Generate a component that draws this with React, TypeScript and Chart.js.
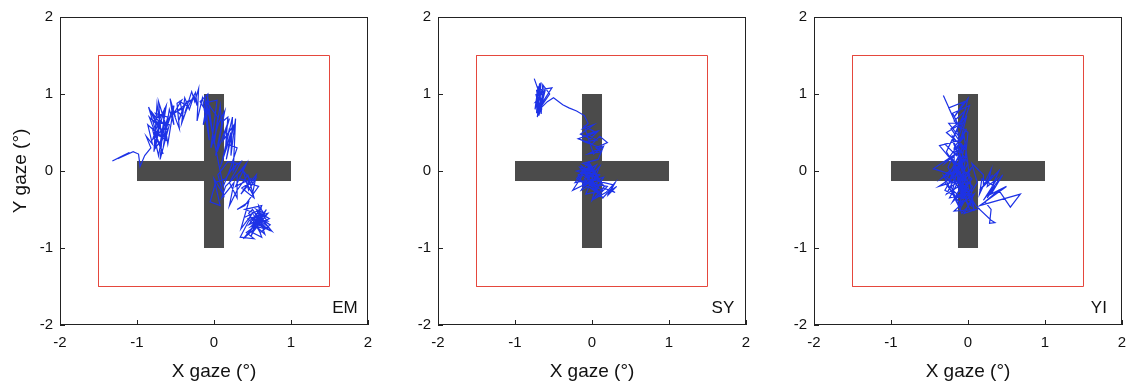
import React, { useEffect, useRef } from "react";
import { Chart, registerables } from "chart.js";

Chart.register(...registerables);

// ---------- data ----------
const tickValues = [-2, -1, 0, 1, 2];
const panelNames = ["EM", "SY", "YI"];
const panelLabelPos = [1.7, -1.78];
const squareX = [-1.5, 1.5, 1.5, -1.5, -1.5];
const squareY = [-1.5, -1.5, 1.5, 1.5, -1.5];
// [x0, x1, y0, y1]
const crossBars = [
  [-0.13, 0.13, -1, 1],
  [-1, 1, -0.13, 0.13],
];

const emTrace = [
  [-1.32, 0.13], [-1.18, 0.2], [-1.1, 0.24], [-1.25, 0.16], [-1.05, 0.25], [-0.98, 0.22], [-0.96, 0.06],
  [-0.9, 0.2], [-0.82, 0.3], [-0.88, 0.45], [-0.8, 0.35], [-0.86, 0.6], [-0.75, 0.5], [-0.85, 0.83],
  [-0.72, 0.55], [-0.8, 0.4], [-0.7, 0.7], [-0.78, 0.25], [-0.74, 0.87], [-0.68, 0.45], [-0.8, 0.55],
  [-0.72, 0.2], [-0.65, 0.6], [-0.76, 0.75], [-0.6, 0.7], [-0.7, 0.35], [-0.62, 0.85], [-0.74, 0.6],
  [-0.84, 0.7], [-0.66, 0.22], [-0.78, 0.5], [-0.62, 0.4], [-0.82, 0.78], [-0.7, 0.62], [-0.76, 0.3],
  [-0.6, 0.52], [-0.72, 0.9], [-0.68, 0.38], [-0.56, 0.72], [-0.74, 0.45], [-0.64, 0.82], [-0.7, 0.15],
  [-0.58, 0.6], [-0.8, 0.65], [-0.66, 0.75], [-0.6, 0.35], [-0.52, 0.85], [-0.62, 0.58],
  [-0.66, 0.3], [-0.58, 0.8], [-0.52, 0.6], [-0.57, 0.94], [-0.5, 0.7], [-0.55, 0.82], [-0.45, 0.55],
  [-0.48, 0.88], [-0.42, 0.92], [-0.52, 0.75], [-0.4, 0.82], [-0.46, 0.65], [-0.36, 0.9], [-0.3, 0.92],
  [-0.48, 0.78], [-0.4, 0.7], [-0.44, 0.9], [-0.34, 0.84], [-0.42, 0.62], [-0.38, 0.95], [-0.32, 0.8],
  [-0.26, 0.98], [-0.22, 0.85], [-0.24, 1.02],
  [-0.38, 0.75], [-0.29, 1.03], [-0.25, 0.9], [-0.2, 1.07], [-0.22, 0.65], [-0.15, 0.95], [-0.12, 0.8],
  [-0.18, 0.9], [-0.08, 1.0], [-0.1, 0.7], [-0.05, 0.85], [-0.14, 0.6], [-0.08, 0.95], [-0.02, 0.5],
  [-0.12, 0.98], [-0.06, 0.4], [-0.14, 0.88], [0.04, 0.92], [-0.04, 0.3], [0.06, 0.62], [0.14, 0.78],
  [0.04, 0.25], [0.2, 0.68], [0.12, 0.4], [0.26, 0.6], [0.16, 0.15], [0.22, 0.5], [0.08, 0.05],
  [0.18, 0.35], [0.3, 0.3], [0.2, 0.0], [0.12, -0.2],
  [-0.1, 0.9], [0.05, 0.7], [0.0, 0.35], [0.08, 0.85], [0.1, 0.6], [0.02, 0.2], [0.12, 0.65],
  [0.18, 0.7], [0.15, 0.3], [0.2, 0.55], [0.1, 0.1], [0.24, 0.7], [0.22, 0.2], [0.28, 0.68],
  [0.25, 0.0], [0.3, 0.1], [0.18, 0.12], [0.05, -0.05], [0.12, -0.3], [0.0, -0.1], [0.08, -0.45],
  [-0.05, -0.4], [0.02, -0.15], [0.15, -0.1], [0.25, 0.05], [0.35, 0.12], [0.2, -0.15], [0.3, -0.35],
  [0.3, -0.05], [0.42, 0.1], [0.33, -0.1], [0.5, -0.15], [0.38, 0.0], [0.45, -0.25], [0.54, -0.1],
  [0.36, -0.22], [0.52, -0.35], [0.44, -0.05], [0.3, -0.25], [0.2, -0.45], [0.26, -0.15], [0.1, -0.35],
  [0.15, -0.2], [0.4, 0.05], [0.28, -0.2], [0.48, -0.1], [0.35, -0.3], [0.55, -0.05], [0.5, -0.3],
  [0.42, -0.15], [0.58, -0.2], [0.4, -0.45], [0.3, -0.5], [0.45, -0.4], [0.35, -0.75], [0.5, -0.55],
  [0.4, -0.6], [0.6, -0.5], [0.45, -0.7], [0.55, -0.65], [0.48, -0.85], [0.6, -0.6], [0.52, -0.75],
  [0.65, -0.55], [0.55, -0.5], [0.7, -0.65], [0.5, -0.62], [0.62, -0.72], [0.58, -0.45], [0.68, -0.6],
  [0.4, -0.5], [0.62, -0.45], [0.5, -0.8], [0.7, -0.55], [0.44, -0.62], [0.66, -0.82], [0.56, -0.52],
  [0.72, -0.62], [0.48, -0.72], [0.64, -0.58], [0.38, -0.88], [0.58, -0.7], [0.7, -0.76], [0.52, -0.58],
  [0.62, -0.86], [0.46, -0.78], [0.68, -0.5], [0.56, -0.72], [0.6, -0.64], [0.5, -0.5],
  [0.45, -0.55], [0.6, -0.8], [0.73, -0.7], [0.55, -0.58], [0.65, -0.75], [0.5, -0.7], [0.62, -0.62],
  [0.75, -0.78], [0.58, -0.68], [0.42, -0.8], [0.52, -0.88], [0.34, -0.86], [0.45, -0.65], [0.6, -0.55],
  [0.67, -0.7], [0.55, -0.6],
];

const syTrace = [
  [-0.75, 1.2], [-0.68, 1.0], [-0.72, 0.75], [-0.7, 1.1], [-0.74, 0.8], [-0.66, 1.15], [-0.71, 0.7],
  [-0.65, 0.95], [-0.73, 0.9], [-0.62, 1.05], [-0.69, 0.72], [-0.6, 1.08], [-0.67, 0.85], [-0.52, 1.08],
  [-0.72, 1.05], [-0.67, 0.78], [-0.73, 1.0], [-0.65, 0.8], [-0.7, 0.92], [-0.63, 1.1], [-0.72, 0.86],
  [-0.68, 1.14], [-0.66, 0.74],
  [-0.64, 1.12], [-0.55, 1.0], [-0.7, 0.78], [-0.58, 0.9], [-0.5, 0.95], [-0.38, 0.86], [-0.3, 0.82],
  [-0.2, 0.78], [-0.1, 0.72], [-0.05, 0.62], [-0.12, 0.55], [0.02, 0.6], [-0.15, 0.48], [-0.02, 0.42],
  [0.08, 0.52], [-0.06, 0.48], [0.06, 0.4], [-0.1, 0.38], [0.12, 0.3], [0.02, 0.22],
  [-0.1, 0.58], [0.05, 0.5], [-0.18, 0.42], [0.0, 0.35], [0.1, 0.45], [0.2, 0.37], [0.05, 0.3],
  [0.12, 0.25], [-0.05, 0.22], [0.15, 0.32], [0.08, 0.15], [-0.12, 0.1], [0.0, 0.05], [-0.2, 0.0],
  [-0.05, -0.05], [-0.15, 0.08], [0.05, -0.1], [-0.22, -0.15], [-0.08, 0.02], [0.1, -0.05], [-0.1, -0.2],
  [-0.18, -0.05], [0.06, 0.08], [-0.14, -0.25], [0.1, -0.12], [-0.04, 0.12], [-0.2, -0.1], [0.14, -0.25],
  [-0.08, -0.3], [0.04, 0.0], [-0.16, 0.05], [0.12, -0.32], [-0.02, -0.22], [0.1, 0.06], [-0.12, -0.18],
  [0.06, -0.25], [-0.06, 0.08], [0.16, -0.2], [0.0, -0.38], [0.08, -0.1], [-0.1, 0.0], [0.14, -0.35],
  [0.26, -0.22], [0.2, -0.32], [0.28, -0.18],
  [0.02, -0.12], [-0.25, -0.25], [-0.12, -0.05], [0.08, -0.2], [-0.05, 0.1], [0.12, -0.15], [0.02, -0.3],
  [0.15, -0.08], [-0.08, -0.15], [0.2, -0.2], [0.05, -0.35], [0.18, -0.28], [0.3, -0.15], [0.22, -0.3],
  [0.32, -0.2], [0.25, -0.25], [0.3, -0.28], [0.15, -0.22], [0.08, -0.28], [0.0, -0.2], [-0.1, -0.1],
  [0.05, 0.0],
];

const yiTrace = [
  [-0.32, 0.98], [-0.15, 0.6], [-0.25, 0.82], [-0.05, 0.9], [-0.18, 0.7], [0.0, 0.94], [-0.1, 0.55],
  [-0.2, 0.75], [0.02, 0.85], [-0.12, 0.45], [-0.25, 0.62], [-0.08, 0.62], [-0.28, 0.5], [-0.05, 0.3],
  [-0.22, 0.55], [-0.02, 0.7], [-0.15, 0.2], [-0.3, 0.35], [-0.1, 0.4], [-0.37, 0.33], [-0.18, 0.1],
  [-0.18, 0.3], [-0.02, 0.55], [-0.26, 0.05], [-0.06, -0.35], [-0.2, 0.15], [0.02, -0.5], [-0.14, -0.1],
  [-0.04, 0.35], [-0.3, -0.15], [-0.08, -0.45], [0.06, -0.2], [-0.16, 0.0], [-0.02, -0.3], [-0.24, -0.35],
  [0.0, 0.1], [-0.12, 0.3], [-0.06, -0.05], [0.04, -0.45], [-0.2, -0.25], [-0.1, 0.2], [0.08, -0.52],
  [-0.05, 0.45], [-0.3, 0.1], [-0.12, 0.25], [-0.45, 0.03], [-0.2, -0.05], [-0.08, 0.15], [-0.35, -0.1],
  [-0.1, 0.05], [-0.25, 0.2], [-0.05, -0.1], [-0.38, -0.2], [-0.15, -0.05], [-0.02, 0.2], [-0.28, -0.3],
  [-0.04, -0.15], [-0.28, 0.25], [-0.14, 0.55], [-0.06, 0.15], [-0.22, -0.08], [0.02, -0.25], [-0.1, -0.42],
  [0.0, 0.5], [-0.18, 0.65], [-0.04, 0.78], [-0.2, 0.4], [-0.08, 0.05],
  [-0.12, -0.15], [0.05, 0.05], [-0.2, -0.4], [-0.05, -0.25], [-0.32, -0.05], [-0.1, -0.5], [0.0, -0.15],
  [-0.15, -0.3], [0.05, -0.4], [-0.08, -0.55], [-0.22, -0.2], [0.02, -0.05], [-0.12, -0.45], [0.08, -0.3],
  [-0.05, -0.55], [0.1, -0.5], [-0.18, -0.52], [0.0, -0.35], [0.12, -0.15], [0.05, 0.1], [0.2, -0.05],
  [0.2, -0.2], [0.32, -0.05], [0.15, -0.25], [0.4, 0.0], [0.25, -0.35], [0.35, -0.2], [0.18, -0.1],
  [0.15, -0.3], [0.3, 0.02], [0.25, -0.2], [0.38, -0.1], [0.2, -0.38], [0.45, -0.05], [0.3, -0.3],
  [0.5, -0.2], [0.15, -0.45], [0.68, -0.3], [0.55, -0.47], [0.4, -0.25], [0.22, -0.4], [0.3, -0.5],
  [0.28, -0.68], [0.35, -0.67], [0.3, -0.64], [0.1, -0.45], [-0.05, -0.2], [-0.15, 0.05], [-0.25, -0.15],
  [-0.08, 0.3], [-0.2, 0.45], [-0.1, 0.1], [-0.3, -0.25], [-0.12, -0.35], [0.05, -0.1], [-0.05, 0.0],
];

const traces = [emTrace, syTrace, yiTrace];

// ---------- styling ----------
const FONT = "'Liberation Sans', Arial, Helvetica, sans-serif";
const panelLeft = [0, 378, 754];
const CANVAS_W = 376;
const CANVAS_H = 387;

const framePlugin = {
  id: "gazeFrame",
  beforeDatasetsDraw(chart: any) {
    const { ctx, scales } = chart;
    const x = scales.x;
    const y = scales.y;
    ctx.save();
    ctx.fillStyle = "#4b4b4b";
    for (const b of crossBars) {
      const px0 = x.getPixelForValue(b[0]);
      const px1 = x.getPixelForValue(b[1]);
      const py0 = y.getPixelForValue(b[3]);
      const py1 = y.getPixelForValue(b[2]);
      ctx.fillRect(px0, py0, px1 - px0, py1 - py0);
    }
    ctx.restore();
  },
  afterDraw(chart: any) {
    const { ctx, chartArea: a, scales } = chart;
    const x = scales.x;
    const y = scales.y;
    ctx.save();
    ctx.strokeStyle = "#222";
    ctx.lineWidth = 1;
    ctx.strokeRect(Math.round(a.left) + 0.5, Math.round(a.top) + 0.5, Math.round(a.width) - 1, Math.round(a.height) - 1);
    ctx.beginPath();
    for (const v of tickValues) {
      const px = Math.round(x.getPixelForValue(v)) + 0.5;
      ctx.moveTo(px, a.bottom);
      ctx.lineTo(px, a.bottom - 5);
      const py = Math.round(y.getPixelForValue(v)) + 0.5;
      ctx.moveTo(a.left, py);
      ctx.lineTo(a.left + 5, py);
    }
    ctx.stroke();
    const name = chart.options.plugins.gazeFrame.label;
    ctx.fillStyle = "#111";
    ctx.font = `17px ${FONT}`;
    ctx.textAlign = "center";
    ctx.textBaseline = "middle";
    ctx.fillText(name, x.getPixelForValue(panelLabelPos[0]), y.getPixelForValue(panelLabelPos[1]));
    ctx.restore();
  },
};

function Panel({ index }: { index: number }) {
  const ref = useRef<HTMLCanvasElement | null>(null);
  useEffect(() => {
    if (!ref.current) return;
    const trace = traces[index];
    const chart = new Chart(ref.current, {
      type: "scatter",
      data: {
        datasets: [
          {
            data: trace.map((p) => ({ x: p[0], y: p[1] })),
            showLine: true,
            borderColor: "#1d32e6",
            borderWidth: 1.2,
            pointRadius: 0,
            tension: 0,
          },
          {
            data: squareX.map((v, i) => ({ x: v, y: squareY[i] })),
            showLine: true,
            borderColor: "#e5473d",
            borderWidth: 1,
            pointRadius: 0,
            tension: 0,
          },
        ],
      },
      options: {
        responsive: false,
        animation: false,
        devicePixelRatio: 1,
        layout: { padding: { top: 17, right: 8, left: 0, bottom: 0 } },
        plugins: {
          legend: { display: false },
          tooltip: { enabled: false },
          gazeFrame: { label: panelNames[index] },
        } as any,
        scales: {
          x: {
            type: "linear",
            min: -2,
            max: 2,
            afterFit: (s: any) => {
              s.height = 62;
              s.paddingLeft = 0;
              s.paddingRight = 0;
            },
            afterBuildTicks: (s: any) => {
              s.ticks = tickValues.map((v) => ({ value: v }));
            },
            grid: { display: false, drawTicks: false },
            border: { display: false },
            ticks: {
              padding: 9,
              color: "#111",
              font: { family: FONT, size: 15 },
              maxRotation: 0,
            },
            title: {
              display: true,
              text: "X gaze (°)",
              color: "#111",
              font: { family: FONT, size: 19 },
              padding: { top: 0, bottom: 4 },
            },
          },
          y: {
            type: "linear",
            min: -2,
            max: 2,
            afterFit: (s: any) => {
              s.width = 60;
              s.paddingTop = 0;
              s.paddingBottom = 0;
            },
            afterBuildTicks: (s: any) => {
              s.ticks = tickValues.map((v) => ({ value: v }));
            },
            grid: { display: false, drawTicks: false },
            border: { display: false },
            ticks: {
              padding: 7,
              color: "#111",
              font: { family: FONT, size: 15 },
            },
            title: {
              display: index === 0,
              text: "Y gaze (°)",
              color: "#111",
              font: { family: FONT, size: 19 },
              padding: { top: 9, bottom: 0 },
            },
          },
        },
      },
      plugins: [framePlugin],
    });
    return () => chart.destroy();
  }, [index]);
  return (
    <canvas
      ref={ref}
      width={CANVAS_W}
      height={CANVAS_H}
      style={{ position: "absolute", left: panelLeft[index], top: 0, width: CANVAS_W, height: CANVAS_H }}
    />
  );
}

export default function App() {
  return (
    <div style={{ position: "absolute", left: 0, top: 0, width: 1132, height: 387, background: "#fff" }}>
      {panelNames.map((_, i) => (
        <Panel key={i} index={i} />
      ))}
    </div>
  );
}
